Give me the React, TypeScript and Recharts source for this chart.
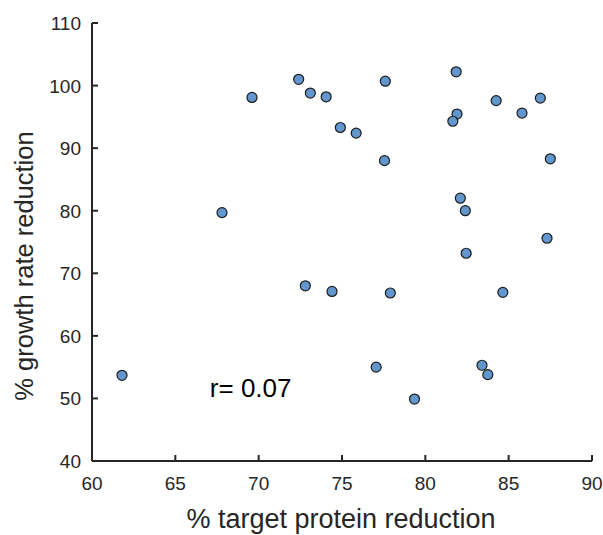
import { ScatterChart, Scatter, XAxis, YAxis, ReferenceDot, Label } from "recharts";

// % target protein reduction (x) and % growth rate reduction (y)
const targetReduction = [
  61.8, 67.8, 69.6, 72.4, 73.1, 74.05, 74.9, 75.85, 77.6, 77.55,
  81.85, 81.9, 81.65, 84.25, 85.8, 86.9, 87.5, 82.1, 82.4, 87.3,
  82.45, 72.8, 74.4, 77.9, 84.65, 77.05, 83.4, 83.75, 79.35,
];
const growthReduction = [
  53.7, 79.7, 98.1, 101.0, 98.8, 98.2, 93.3, 92.4, 100.7, 88.0,
  102.2, 95.45, 94.3, 97.6, 95.6, 98.0, 88.3, 82.0, 80.0, 75.6,
  73.2, 68.0, 67.1, 66.85, 66.95, 55.0, 55.3, 53.8, 49.9,
];

const xTicks = [60, 65, 70, 75, 80, 85, 90];
const yTicks = [40, 50, 60, 70, 80, 90, 100, 110];

const corrLabel = "r= 0.07";
const corrPos = { x: 67.07, y: 50.2 };

const FONT = '"Liberation Sans", Arial, Helvetica, sans-serif';
const INK = "#262626";

const points = targetReduction.map((x, i) => ({ x, y: growthReduction[i] }));

function XTick(props: any) {
  const { x, y, payload } = props;
  return (
    <g>
      <line x1={x} y1={y} x2={x} y2={y - 6} stroke={INK} strokeWidth={2} />
      <text x={x} y={y + 29} textAnchor="middle" fontSize={19} fontFamily={FONT} fill={INK}>
        {payload.value}
      </text>
    </g>
  );
}

function YTick(props: any) {
  const { x, y, payload } = props;
  return (
    <g>
      <line x1={x} y1={y} x2={x + 6} y2={y} stroke={INK} strokeWidth={2} />
      <text x={x - 11} y={y + 7} textAnchor="end" fontSize={19} fontFamily={FONT} fill={INK}>
        {payload.value}
      </text>
    </g>
  );
}

function Dot(props: any) {
  const { cx, cy } = props;
  return <circle cx={cx} cy={cy} r={5} fill="#6196cf" stroke="#1c1c1c" strokeWidth={1.2} />;
}

export default function App() {
  return (
    <div style={{ position: "absolute", left: 0, top: 0, background: "#fff" }}>
      <ScatterChart width={603} height={535} margin={{ top: 23, right: 11, bottom: 0, left: 0 }}>
        <XAxis
          type="number"
          dataKey="x"
          domain={[60, 90]}
          ticks={xTicks}
          height={74}
          tickSize={0}
          tickMargin={0}
          tick={<XTick />}
          tickLine={false}
          axisLine={{ stroke: INK, strokeWidth: 2 }}
          allowDataOverflow
        >
          <Label
            content={(p: any) => {
              const vb = p.viewBox;
              return (
                <text x={vb.x + vb.width / 2 - 1} y={vb.y + 67} textAnchor="middle" fontSize={27} fontFamily={FONT} fill={INK}>
                  % target protein reduction
                </text>
              );
            }}
          />
        </XAxis>
        <YAxis
          type="number"
          dataKey="y"
          domain={[40, 110]}
          ticks={yTicks}
          width={92}
          tickSize={0}
          tickMargin={0}
          tick={<YTick />}
          tickLine={false}
          axisLine={{ stroke: INK, strokeWidth: 2 }}
          allowDataOverflow
        >
          <Label
            content={() => (
              <text x={33} y={266} transform="rotate(-90, 33, 266)" textAnchor="middle" fontSize={25.5} fontFamily={FONT} fill={INK}>
                % growth rate reduction
              </text>
            )}
          />
        </YAxis>
        <Scatter data={points} shape={<Dot />} isAnimationActive={false} />
        <ReferenceDot
          x={corrPos.x}
          y={corrPos.y}
          r={0}
          shape={(p: any) => (
            <text x={p.cx} y={p.cy} fontSize={26} fontFamily={FONT} fill="#000">
              {corrLabel}
            </text>
          )}
        />
      </ScatterChart>
    </div>
  );
}
